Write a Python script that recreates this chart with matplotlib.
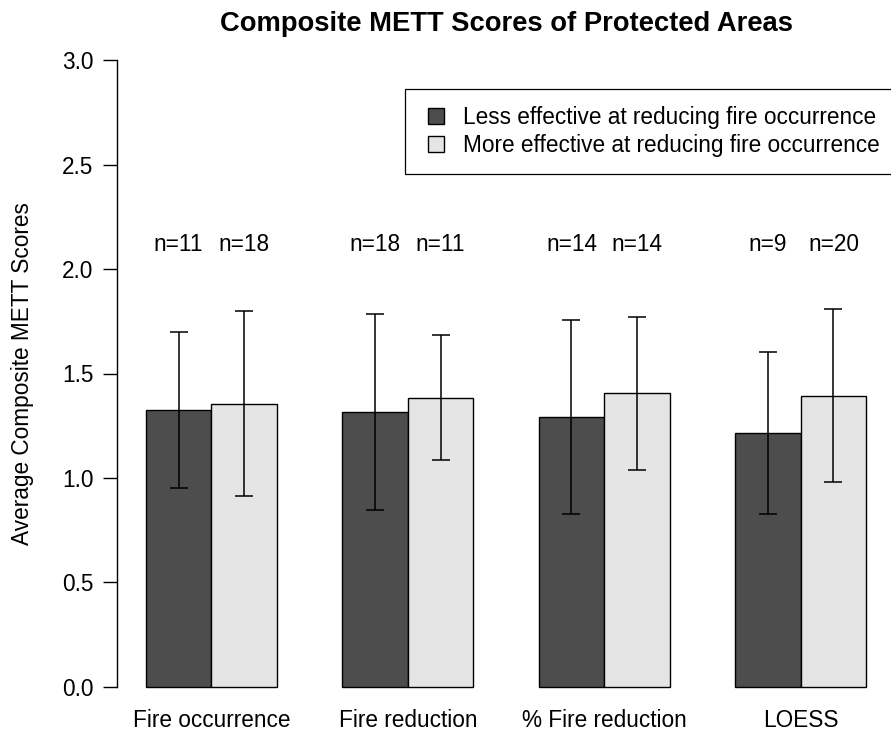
# Composite METT scores of protected areas, grouped by fire-effectiveness class

import numpy as np
import matplotlib
matplotlib.use("Agg")
import matplotlib.pyplot as plt
from matplotlib.lines import Line2D

plt.rcParams["font.family"] = ["Liberation Sans", "DejaVu Sans"]

# -----------------------------------------------------------------------------
# DATA
# -----------------------------------------------------------------------------

categories = ["Fire occurrence", "Fire reduction", "% Fire reduction", "LOESS"]
series_names = ["Less effective at reducing fire occurrence",
                "More effective at reducing fire occurrence"]

less_mean = [1.325, 1.316, 1.293, 1.214]
less_sd   = [0.372, 0.471, 0.464, 0.388]
less_n    = [11, 18, 14, 9]

more_mean = [1.356, 1.385, 1.405, 1.394]
more_sd   = [0.442, 0.300, 0.366, 0.415]
more_n    = [18, 11, 14, 20]

yticks = [0.0, 0.5, 1.0, 1.5, 2.0, 2.5, 3.0]

COL_LESS = "#4d4d4d"
COL_MORE = "#e5e5e5"
FS = 16.3

# -----------------------------------------------------------------------------
# PLOT
# -----------------------------------------------------------------------------

fig = plt.figure(figsize=(8.91, 7.42), dpi=100)
ax = fig.add_axes([117 / 891, 30 / 742, 778 / 891, 677 / 742])

# bars side by side, one empty slot between groups
grp = np.arange(len(categories)) * 3.0
x_less = grp + 1.5
x_more = grp + 2.5

ax.bar(x_less, less_mean, width=1.0, color=COL_LESS, edgecolor="black", linewidth=1.0)
ax.bar(x_more, more_mean, width=1.0, color=COL_MORE, edgecolor="black", linewidth=1.0)

for xs, m, s in [(x_less, less_mean, less_sd), (x_more, more_mean, more_sd)]:
    ax.errorbar(xs, m, yerr=s, fmt="none", ecolor="black",
                elinewidth=1.1, capsize=6.5, capthick=1.1)

for xs, ns in [(x_less, less_n), (x_more, more_n)]:
    for xi, n in zip(xs, ns):
        ax.text(xi, 2.115, f"n={n}", ha="center", va="center", fontsize=FS)

# group names under each pair
for xc, name in zip(grp + 2.0, categories):
    ax.text(xc, -0.19, name, ha="center", va="baseline", fontsize=FS)

ax.set_xlim(0.56, 12.44)
ax.set_ylim(-0.12, 3.12)
ax.set_xticks([])
ax.set_yticks(yticks)
ax.set_yticklabels([f"{v:.1f}" for v in yticks], fontsize=FS)
ax.tick_params(axis="y", length=10, width=1.0, pad=7)

for side in ["top", "right", "bottom"]:
    ax.spines[side].set_visible(False)
ax.spines["left"].set_bounds(0, 3)
ax.spines["left"].set_linewidth(1.0)

ax.set_ylabel("Average Composite METT Scores", fontsize=FS, va="center")
ax.yaxis.set_label_coords(-0.122, 0.5)

fig.text(507 / 891, 1 - 24 / 742, "Composite METT Scores of Protected Areas",
         ha="center", va="center", fontsize=19.7, fontweight="bold")

handles = [Line2D([], [], marker="s", markersize=11, linestyle="none",
                  markerfacecolor=c, markeredgecolor="black", markeredgewidth=1.0)
           for c in (COL_LESS, COL_MORE)]
leg = ax.legend(handles, series_names, loc="upper left",
                bbox_to_anchor=(405 / 891, 1 - 89 / 742), bbox_transform=fig.transFigure,
                fontsize=FS, frameon=True, fancybox=False, framealpha=1,
                edgecolor="black", borderpad=0.75, handlelength=1.2,
                handletextpad=0.6, labelspacing=0.22, borderaxespad=0)
leg.get_frame().set_linewidth(0.9)

fig.savefig("out.png", dpi=100)
